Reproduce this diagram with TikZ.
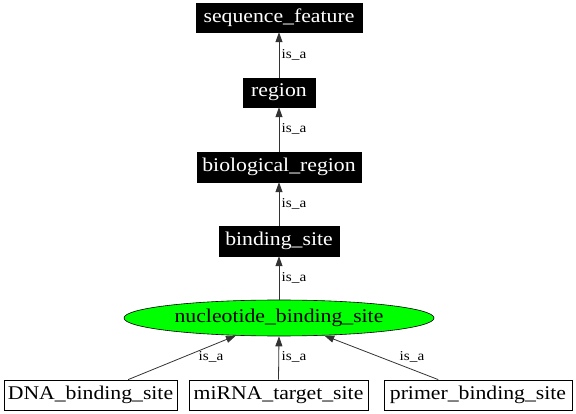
\documentclass[tikz,border=0pt]{standalone}
\usepackage{fontspec}
\setmainfont{Liberation Serif}[FakeStretch=1.12]
\usetikzlibrary{arrows.meta,shapes.geometric}
\begin{document}
\begin{tikzpicture}[x=1pt,y=-1pt,
  darkbox/.style={draw=black,fill=black,text=white,rectangle,minimum height=29pt,inner sep=0pt,font=\fontsize{19.4}{20}\selectfont},
  whitebox/.style={draw=black,fill=white,rectangle,minimum height=30pt,inner sep=0pt,line width=0.8pt,font=\fontsize{19.4}{20}\selectfont},
  ovalnode/.style={draw=black,fill=green,ellipse,minimum width=310pt,minimum height=36pt,inner sep=0pt,line width=0.6pt,font=\fontsize{19.4}{20}\selectfont},
  isa/.style={draw=black!80,line width=0.8pt,-{Triangle[length=10pt,width=7pt]}},
  elabel/.style={font=\fontsize{13.6}{14}\selectfont,inner sep=0pt}]
\useasboundingbox (0,0) rectangle (576,414);
\node[darkbox,minimum width=166pt] (sf) at (279,17.5) {sequence\_feature};
\node[darkbox,minimum width=72pt] (reg) at (279,92.5) {region};
\node[darkbox,minimum width=164pt,minimum height=30pt] (bio) at (279,167) {biological\_region};
\node[darkbox,minimum width=120pt,minimum height=30pt] (bs) at (279,241) {binding\_site};
\node[ovalnode] (nbs) at (279,318) {nucleotide\_binding\_site};
\node[whitebox,minimum width=173pt] (dna) at (90.5,395) {DNA\_binding\_site};
\node[whitebox,minimum width=179pt] (mir) at (278.5,395) {miRNA\_target\_site};
\node[whitebox,minimum width=188pt] (pri) at (478,395) {primer\_binding\_site};
\draw[isa] (reg) -- (sf);
\draw[isa] (bio) -- (reg);
\draw[isa] (bs) -- (bio);
\draw[isa] (nbs) -- (bs);
\draw[isa] (dna) -- (nbs);
\draw[isa] (mir.north) -- (nbs.south);
\draw[isa] (pri) -- (nbs);
\node[elabel] (l1) at (294,55) {is\_a};
\node[elabel] (l2) at (294,129) {is\_a};
\node[elabel] (l3) at (294,204) {is\_a};
\node[elabel] (l4) at (294,278) {is\_a};
\node[elabel] (l5) at (211,357) {is\_a};
\node[elabel] (l6) at (294,357) {is\_a};
\node[elabel] (l7) at (412,357) {is\_a};
\end{tikzpicture}
\end{document}
